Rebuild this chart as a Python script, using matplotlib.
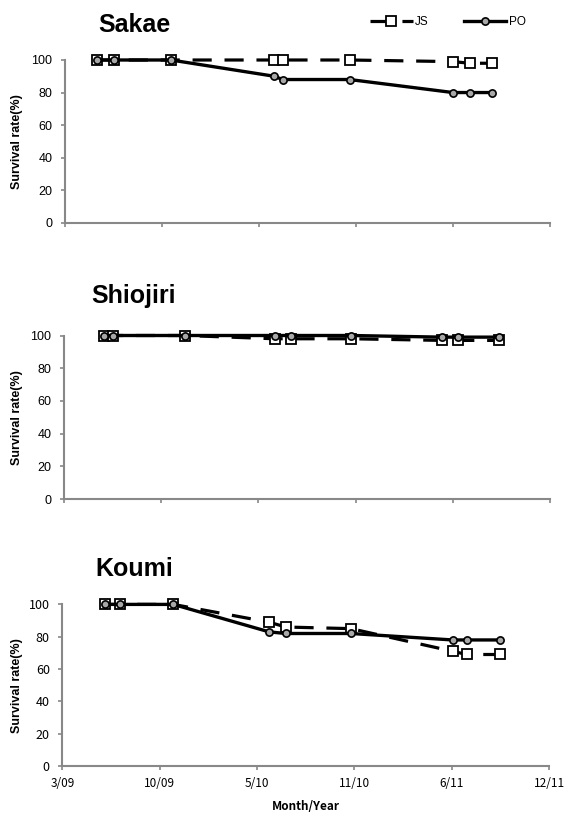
import matplotlib
matplotlib.use('Agg')
import matplotlib.pyplot as plt
import matplotlib.dates as mdates
from datetime import date, timedelta

plt.rcParams['font.family'] = ['Liberation Sans', 'DejaVu Sans']

# x axis of the original: date axis starting 3/31/09, major unit 200 days
AXIS_START = date(2009, 3, 31)
TICK_STEP = 200
N_TICKS = 6

sites = ['Sakae', 'Shiojiri', 'Koumi']

sakae_dates = ['2009-06-05', '2009-07-10', '2009-11-05', '2010-06-06', '2010-06-23',
               '2010-11-08', '2011-06-09', '2011-07-14', '2011-08-29']
sakae_js = [100, 100, 100, 100, 100, 100, 99, 98, 98]
sakae_po = [100, 100, 100, 90, 88, 88, 80, 80, 80]

shiojiri_dates = ['2009-06-21', '2009-07-10', '2009-12-05', '2010-06-08', '2010-07-12',
                  '2010-11-12', '2011-05-18', '2011-06-19', '2011-09-13']
shiojiri_js = [100, 100, 100, 98, 98, 98, 97, 97, 97]
shiojiri_po = [100, 100, 100, 100, 100, 100, 99, 99, 99]

koumi_dates = ['2009-06-27', '2009-07-28', '2009-11-14', '2010-05-30', '2010-07-03',
               '2010-11-14', '2011-06-11', '2011-07-10', '2011-09-17']
koumi_js = [100, 100, 100, 89, 86, 85, 71, 69, 69]
koumi_po = [100, 100, 100, 83, 82, 82, 78, 78, 78]

all_dates = [sakae_dates, shiojiri_dates, koumi_dates]
all_js = [sakae_js, shiojiri_js, koumi_js]
all_po = [sakae_po, shiojiri_po, koumi_po]

GRAY = '#888888'
JP = ['Noto Sans CJK JP', 'DejaVu Sans']
W, H = 568, 814

fig = plt.figure(figsize=(W / 100, H / 100), dpi=100)

# axes boxes in pixels: left, right, y of 100, y of 0
boxes = [(64.7, 550, 60, 222.7), (64, 550, 335.5, 499), (62.3, 549, 604.4, 766)]
title_pos = [(98, 32), (91, 303), (95, 576)]

tick_dates = [AXIS_START + timedelta(days=TICK_STEP * k) for k in range(N_TICKS)]
tick_nums = mdates.date2num(tick_dates)
tick_labels = ['%d/%s' % (d.month, d.strftime('%y')) for d in tick_dates]

for i in range(3):
    l, r, ytop, ybot = boxes[i]
    ax = fig.add_axes([l / W, 1 - ybot / H, (r - l) / W, (ybot - ytop) / H])
    x = mdates.datestr2num(all_dates[i])
    js_line, = ax.plot(x, all_js[i], color='black', lw=2.3, dashes=(6, 4), marker='s', ms=6.8,
                       mfc='white', mec='black', mew=1.3, clip_on=False, zorder=3, label='JS')
    po_line, = ax.plot(x, all_po[i], color='black', lw=2.4, marker='o', ms=5.2,
                       mfc='#a8a8a8', mec='black', mew=1.2, clip_on=False, zorder=4, label='PO')
    ax.set_xlim(tick_nums[0], tick_nums[-1])
    ax.set_ylim(0, 100)
    ax.set_yticks(range(0, 101, 20))
    ax.set_xticks(tick_nums)
    for side in ['top', 'right']:
        ax.spines[side].set_visible(False)
    for side in ['left', 'bottom']:
        ax.spines[side].set_color(GRAY)
        ax.spines[side].set_linewidth(1.5)
    ax.tick_params(axis='both', color=GRAY, length=3, width=1.2, direction='out',
                   labelsize=9, pad=6)
    if i == 2:
        ax.set_xticklabels(tick_labels, family=JP, fontsize=8.5)
        for lab in ax.get_yticklabels():
            lab.set_family(JP)
        ax.tick_params(axis='x', pad=5)
        ax.set_xlabel('Month/Year', fontsize=8.5, fontweight='bold', labelpad=7, family=JP)
    else:
        ax.set_xticklabels([])
    fig.text(17 / W, 1 - (ytop + ybot) / 2 / H, 'Survival rate(%)', rotation=90,
             ha='center', va='center', fontsize=9, fontweight='bold')
    tx, ty = title_pos[i]
    fig.text(tx / W, 1 - ty / H, sites[i], fontsize=18, fontweight='bold',
             ha='left', va='baseline')

fig.legend(handles=[js_line, po_line], loc='center left', bbox_to_anchor=(370 / W, 1 - 21.7 / H),
           ncol=2, frameon=False, fontsize=8.5, handlelength=3.6, handletextpad=0.2,
           columnspacing=3.0, borderpad=0, borderaxespad=0)

fig.savefig('out.png', dpi=100)
